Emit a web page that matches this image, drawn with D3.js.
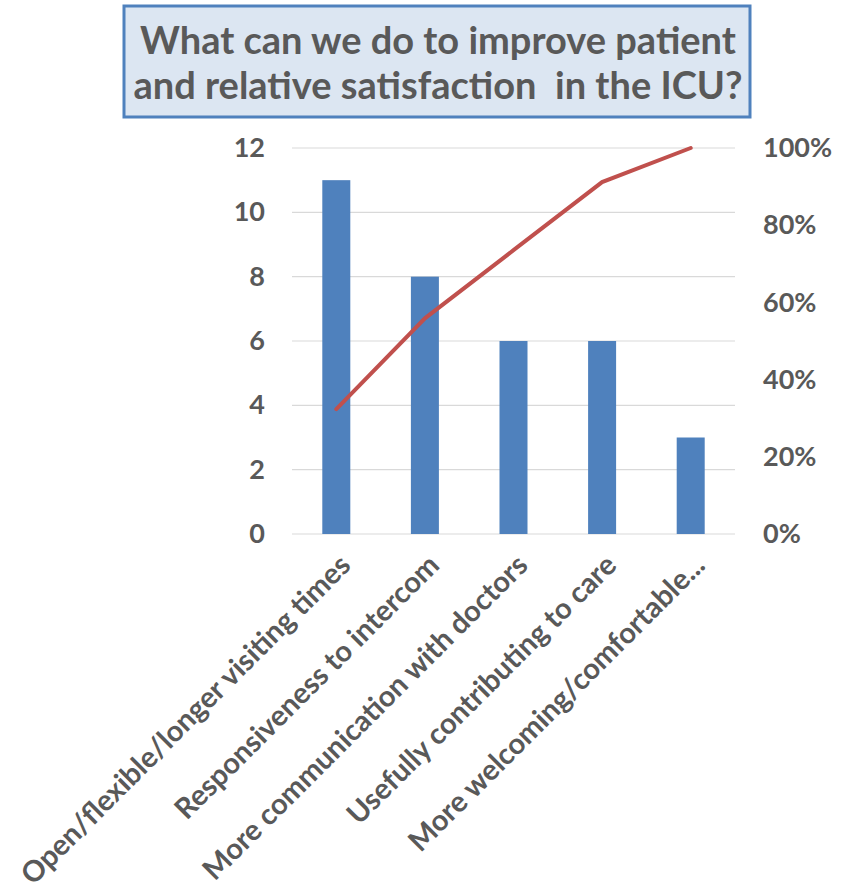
<!DOCTYPE html>
<html><head><meta charset="utf-8">
<script src="https://cdn.jsdelivr.net/npm/d3@7"></script>
<style>body{margin:0;background:#fff}svg{display:block}</style>
</head><body>
<script>
const categories = ["Open/flexible/longer visiting times","Responsiveness to intercom","More communication with doctors","Usefully contributing to care","More welcoming/comfortable..."];
const counts = [11, 8, 6, 6, 3];
const leftTicks = [0, 2, 4, 6, 8, 10, 12];
const rightTicks = [0, 0.2, 0.4, 0.6, 0.8, 1.0];
const titleLines = ["What can we do to improve patient", "and relative satisfaction  in the ICU?"];

const total = d3.sum(counts);
let run = 0;
const cumulative = counts.map(c => (run += c) / total);

const W = 845, H = 894;
const svg = d3.select("body").append("svg").attr("width", W).attr("height", H);
const font = "Lato, 'Open Sans', sans-serif";
const grey = "#595959";

// title box
svg.append("rect").attr("x", 124).attr("y", 6).attr("width", 626).attr("height", 111)
  .attr("fill", "#dce6f2").attr("stroke", "#4f81bd").attr("stroke-width", 3);
svg.selectAll("text.title").data(titleLines).enter().append("text")
  .attr("x", 438).attr("y", (d, i) => 54 + i * 45)
  .attr("text-anchor", "middle").attr("font-family", font).attr("font-weight", 700)
  .attr("font-size", 38).attr("fill", grey).style("white-space", "pre").text(d => d);

const x = d3.scaleBand().domain(categories).range([292, 735]).paddingInner(0).paddingOuter(0);
const y = d3.scaleLinear().domain([0, 12]).range([534, 148]);
const y2 = d3.scaleLinear().domain([0, 1]).range([534, 148]);

// gridlines
svg.append("g").selectAll("line").data(leftTicks).enter().append("line")
  .attr("x1", 292).attr("x2", 735).attr("y1", d => y(d)).attr("y2", d => y(d))
  .attr("stroke", "#d9d9d9").attr("stroke-width", 1.2);

// left axis
const ga = svg.append("g").attr("transform", "translate(265,0)")
  .call(d3.axisLeft(y).tickValues(leftTicks).tickSize(0).tickPadding(0));
ga.select(".domain").remove();
ga.selectAll("text").attr("font-family", font).attr("font-weight", 700).attr("font-size", 27).attr("fill", grey);

// right axis
const gr = svg.append("g").attr("transform", "translate(763,0)")
  .call(d3.axisRight(y2).tickValues(rightTicks).tickFormat(d3.format(".0%")).tickSize(0).tickPadding(0));
gr.select(".domain").remove();
gr.selectAll("text").attr("font-family", font).attr("font-weight", 700).attr("font-size", 27).attr("fill", grey);

// bars
const bw = 28;
svg.append("g").selectAll("rect").data(counts).enter().append("rect")
  .attr("x", (d, i) => x(categories[i]) + x.bandwidth() / 2 - bw / 2)
  .attr("width", bw)
  .attr("y", d => y(d)).attr("height", d => y(0) - y(d))
  .attr("fill", "#4f81bd");

// cumulative line
const line = d3.line().x((d, i) => x(categories[i]) + x.bandwidth() / 2).y(d => y2(d));
svg.append("path").datum(cumulative).attr("d", line)
  .attr("fill", "none").attr("stroke", "#c0504d").attr("stroke-width", 4).attr("stroke-linecap", "round");

// x labels
svg.append("g").selectAll("text").data(categories).enter().append("text")
  .attr("transform", d => `translate(${x(d) + x.bandwidth() / 2 + 16},567) rotate(-45)`)
  .attr("text-anchor", "end").attr("font-family", font).attr("font-weight", 700)
  .attr("font-size", 29).attr("fill", grey).text(d => d);
</script>
</body></html>
